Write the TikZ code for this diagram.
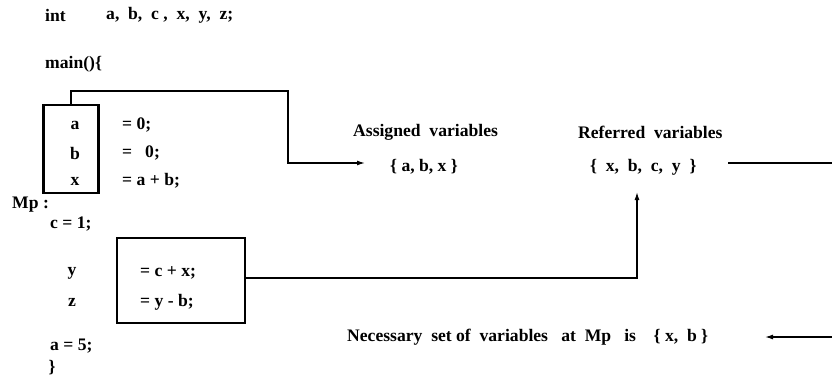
\documentclass[tikz,border=0pt]{standalone}
\usepackage{fontspec}
\setmainfont{Liberation Serif}
\usetikzlibrary{arrows.meta}
\begin{document}
\begin{tikzpicture}[x=1pt,y=-1pt,
  txt/.style={inner sep=0pt,anchor=west,font=\fontsize{17.6}{20}\selectfont\bfseries},
  ctxt/.style={inner sep=0pt,anchor=center,font=\fontsize{17.6}{20}\selectfont\bfseries},
  thickbox/.style={draw,line width=2.4pt,inner sep=0pt},
  midbox/.style={draw,line width=2pt,inner sep=0pt},
  conn/.style={draw,line width=1.3pt},
  arr/.style={conn,-{Latex[length=8pt,width=5pt]}}]
\useasboundingbox (0,0) rectangle (832,381);
% declarations
\node[txt] (int) at (45,15) {int};
\node[txt] (decl) at (106,15) {a,\ \ b,\ \ c ,\ \ x,\ \ y,\ \ z;};
\node[txt] (main) at (45,64) {main()\{};
% first box
\node[thickbox,minimum width=55pt,minimum height=88pt] (box1) at (71,149) {};
\node[ctxt] (va) at (75,125) {a};
\node[ctxt] (vb) at (75,153) {b};
\node[ctxt] (vx) at (75,181) {x};
\node[txt] (ea) at (122,125) {= 0;};
\node[txt] (eb) at (122,153) {=\hspace{13pt}0;};
\node[txt] (ex) at (122,181) {= a + b;};
% Mp part
\node[txt] (mp) at (12,205) {Mp :};
\node[txt] (c1) at (50,224) {c = 1;};
\node[midbox,minimum width=128pt,minimum height=85pt] (box2) at (181,280.5) {};
\node[ctxt] (vy) at (72,273) {y};
\node[ctxt] (vz) at (72,302) {z};
\node[txt] (ey) at (140,273) {= c + x;};
\node[txt] (ez) at (140,302) {= y - b;};
\node[txt] (a5) at (50,346) {a = 5;};
\node[ctxt] (close) at (52,368) {\}};
% right side texts
\node[txt] (assigned) at (353,132) {Assigned\ \ variables};
\node[txt] (aset) at (390,167) {\{\ a,\ b,\ x\ \}};
\node[txt] (referred) at (578,132) {Referred\ \ variables};
\node[txt] (rset) at (590,167) {\{\ \ x,\ \ b,\ \ c,\ \ y\ \ \}};
\node[txt] (need) at (347,337) {Necessary\ \ set of\ \ variables\ \ \ at\ \ Mp\ \ \ is\ \ \ \ \{\ x,\ \ b\ \}};
% connectors
\coordinate (up) at (637,192);
\coordinate (redge) at (832,163);
\coordinate (bedge) at (832,337);
\coordinate (atip) at (365,163);
\coordinate (ntip) at (765,337);
\draw[arr] (box1.north) -- (71,91) -- (288,91) -- (288,163) -- (atip);
\draw[arr] (box2.east |- 0,278) -- (637,278) -- (up);
\draw[conn] (728,163) -- (redge);
\draw[arr] (bedge) -- (ntip);
\end{tikzpicture}
\end{document}
